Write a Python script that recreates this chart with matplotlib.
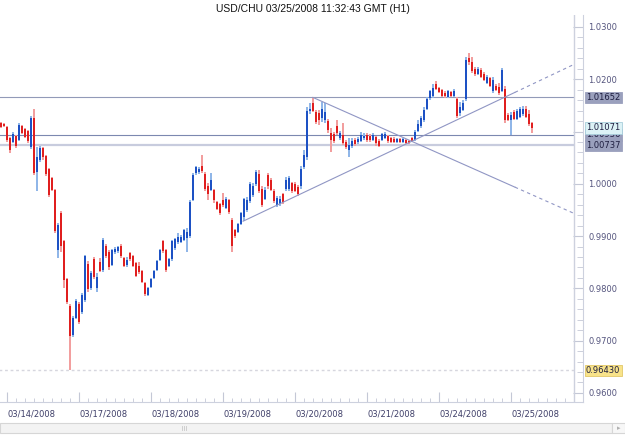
import matplotlib
matplotlib.use("Agg")
import matplotlib.pyplot as plt
import numpy as np
from matplotlib.patches import Rectangle
from matplotlib.lines import Line2D
from matplotlib.transforms import blended_transform_factory

title = "USD/CHU 03/25/2008 11:32:43 GMT (H1)"
day_labels = ["03/14/2008", "03/17/2008", "03/18/2008", "03/19/2008",
              "03/20/2008", "03/21/2008", "03/24/2008", "03/25/2008"]
first_hour = -26  # hourly bars shown before 03/17 00:00

opens = [1.0116, 1.0114, 1.0108, 1.0088, 1.0080, 1.0092, 1.0084, 1.0110, 1.0104, 1.0101,
         1.0070, 1.0126, 1.0023, 1.0045, 1.0068, 1.0053, 1.0029, 1.0011, 0.9989, 0.9874,
         0.9944, 0.9890, 0.9818, 0.9766, 0.9711, 0.9743,
         0.9770, 0.9755, 0.9778, 0.9846, 0.9800, 0.9856, 0.9800, 0.9850, 0.9835, 0.9882,
         0.9870, 0.9844, 0.9870, 0.9872, 0.9882, 0.9858, 0.9844, 0.9868, 0.9862, 0.9848,
         0.9842, 0.9834, 0.9810, 0.9788,
         0.9802, 0.9820, 0.9835, 0.9854, 0.9890, 0.9874, 0.9842, 0.9856, 0.9878, 0.9888,
         0.9888, 0.9892, 0.9896, 0.9900, 0.9969, 1.0021, 1.0023, 1.0035, 1.0019, 0.9995,
         0.9989, 0.9989, 0.9965, 0.9961,
         0.9969, 0.9953, 0.9969, 0.9930, 0.9912, 0.9908, 0.9924, 0.9936, 0.9949, 0.9967,
         0.9979, 0.9999, 1.0019, 0.9991, 0.9971, 1.0017, 1.0007, 0.9987, 0.9959, 0.9961,
         0.9981, 0.9991, 0.9991, 1.0001, 0.9999, 0.9993,
         0.9995, 1.0033, 1.0051, 1.0140, 1.0154, 1.0138, 1.0136, 1.0126, 1.0122, 1.0120,
         1.0097, 1.0096, 1.0110, 1.0088, 1.0094, 1.0080, 1.0064, 1.0072, 1.0084, 1.0080,
         1.0082, 1.0088, 1.0094, 1.0092,
         1.0084, 1.0090, 1.0082, 1.0084, 1.0088, 1.0092, 1.0088, 1.0086, 1.0080, 1.0086,
         1.0080, 1.0084, 1.0082, 1.0088, 1.0084, 1.0101, 1.0110, 1.0122, 1.0144, 1.0164,
         1.0168, 1.0190, 1.0184, 1.0180,
         1.0174, 1.0166, 1.0176, 1.0168, 1.0162, 1.0136, 1.0142, 1.0162, 1.0241, 1.0233,
         1.0219, 1.0210, 1.0217, 1.0210, 1.0192, 1.0202, 1.0178, 1.0188, 1.0186, 1.0178,
         1.0182, 1.0132, 1.0122, 1.0138,
         1.0124, 1.0128, 1.0134, 1.0144, 1.0134, 1.0116]
highs = [1.0118, 1.0116, 1.0110, 1.0090, 1.0100, 1.0094, 1.0116, 1.0112, 1.0106, 1.0103,
         1.0130, 1.0144, 1.0070, 1.0072, 1.0070, 1.0055, 1.0031, 1.0013, 0.9991, 0.9926,
         0.9948, 0.9892, 0.9820, 0.9770, 0.9747, 0.9780,
         0.9774, 0.9792, 0.9864, 0.9852, 0.9834, 0.9860, 0.9830, 0.9858, 0.9896, 0.9884,
         0.9874, 0.9876, 0.9880, 0.9882, 0.9884, 0.9860, 0.9860, 0.9870, 0.9864, 0.9850,
         0.9850, 0.9836, 0.9812, 0.9802,
         0.9820, 0.9835, 0.9854, 0.9876, 0.9892, 0.9876, 0.9858, 0.9892, 0.9896, 0.9906,
         0.9902, 0.9914, 0.9916, 0.9969, 1.0021, 1.0035, 1.0033, 1.0055, 1.0023, 1.0001,
         1.0021, 0.9991, 0.9967, 0.9963,
         0.9983, 0.9975, 0.9971, 0.9934, 0.9914, 0.9926, 0.9946, 0.9973, 0.9975, 1.0003,
         1.0001, 1.0027, 1.0027, 0.9995, 0.9993, 1.0021, 1.0011, 0.9991, 0.9977, 0.9977,
         0.9983, 1.0013, 1.0015, 1.0003, 1.0003, 0.9997,
         1.0035, 1.0065, 1.0146, 1.0154, 1.0165, 1.0142, 1.0142, 1.0156, 1.0154, 1.0124,
         1.0106, 1.0100, 1.0122, 1.0101, 1.0116, 1.0084, 1.0088, 1.0088, 1.0088, 1.0090,
         1.0100, 1.0097, 1.0097, 1.0096,
         1.0097, 1.0092, 1.0086, 1.0097, 1.0100, 1.0094, 1.0090, 1.0090, 1.0088, 1.0088,
         1.0088, 1.0086, 1.0084, 1.0090, 1.0103, 1.0122, 1.0130, 1.0146, 1.0166, 1.0180,
         1.0190, 1.0196, 1.0186, 1.0182,
         1.0178, 1.0180, 1.0178, 1.0182, 1.0166, 1.0156, 1.0160, 1.0243, 1.0250, 1.0243,
         1.0223, 1.0223, 1.0221, 1.0214, 1.0208, 1.0204, 1.0204, 1.0190, 1.0192, 1.0221,
         1.0188, 1.0136, 1.0138, 1.0142,
         1.0144, 1.0146, 1.0148, 1.0148, 1.0142, 1.0118]
lows = [1.0106, 1.0108, 1.0080, 1.0059, 1.0078, 1.0068, 1.0082, 1.0096, 1.0088, 1.0078,
        1.0066, 1.0017, 0.9987, 1.0041, 1.0045, 1.0015, 0.9975, 0.9987, 0.9906, 0.9858,
        0.9870, 0.9800, 0.9770, 0.9643, 0.9707, 0.9741,
        0.9731, 0.9751, 0.9774, 0.9794, 0.9796, 0.9818, 0.9794, 0.9832, 0.9832, 0.9858,
        0.9836, 0.9842, 0.9866, 0.9868, 0.9858, 0.9840, 0.9840, 0.9852, 0.9840, 0.9822,
        0.9828, 0.9810, 0.9786, 0.9786,
        0.9800, 0.9818, 0.9834, 0.9852, 0.9868, 0.9832, 0.9840, 0.9852, 0.9874, 0.9884,
        0.9886, 0.9890, 0.9870, 0.9896, 0.9967, 1.0017, 1.0019, 1.0021, 0.9987, 0.9969,
        0.9987, 0.9963, 0.9949, 0.9941,
        0.9955, 0.9951, 0.9943, 0.9870, 0.9896, 0.9906, 0.9922, 0.9928, 0.9946, 0.9963,
        0.9975, 0.9995, 0.9983, 0.9955, 0.9969, 0.9991, 0.9987, 0.9963, 0.9955, 0.9957,
        0.9961, 0.9987, 0.9987, 0.9983, 0.9985, 0.9977,
        0.9991, 1.0029, 1.0045, 1.0134, 1.0138, 1.0114, 1.0112, 1.0118, 1.0116, 1.0097,
        1.0061, 1.0078, 1.0094, 1.0084, 1.0074, 1.0066, 1.0051, 1.0068, 1.0072, 1.0076,
        1.0080, 1.0084, 1.0080, 1.0080,
        1.0082, 1.0072, 1.0070, 1.0082, 1.0086, 1.0078, 1.0078, 1.0078, 1.0078, 1.0078,
        1.0078, 1.0076, 1.0076, 1.0080, 1.0082, 1.0099, 1.0106, 1.0118, 1.0142, 1.0160,
        1.0164, 1.0180, 1.0174, 1.0166,
        1.0164, 1.0164, 1.0166, 1.0166, 1.0126, 1.0130, 1.0140, 1.0158, 1.0227, 1.0212,
        1.0206, 1.0208, 1.0202, 1.0196, 1.0190, 1.0186, 1.0174, 1.0178, 1.0170, 1.0176,
        1.0116, 1.0120, 1.0094, 1.0122,
        1.0122, 1.0126, 1.0130, 1.0126, 1.0110, 1.0097]
closes = [1.0108, 1.0110, 1.0084, 1.0064, 1.0096, 1.0072, 1.0112, 1.0098, 1.0090, 1.0082,
          1.0126, 1.0021, 1.0051, 1.0068, 1.0051, 1.0019, 0.9979, 0.9989, 0.9910, 0.9922,
          0.9882, 0.9816, 0.9774, 0.9709, 0.9743, 0.9776,
          0.9735, 0.9788, 0.9862, 0.9798, 0.9830, 0.9822, 0.9822, 0.9834, 0.9892, 0.9862,
          0.9840, 0.9874, 0.9876, 0.9880, 0.9862, 0.9842, 0.9854, 0.9856, 0.9842, 0.9824,
          0.9832, 0.9812, 0.9790, 0.9800,
          0.9818, 0.9834, 0.9852, 0.9874, 0.9872, 0.9835, 0.9856, 0.9890, 0.9894, 0.9898,
          0.9898, 0.9912, 0.9908, 0.9965, 1.0017, 1.0033, 1.0029, 1.0025, 0.9991, 0.9981,
          1.0007, 0.9969, 0.9951, 0.9945,
          0.9959, 0.9971, 0.9947, 0.9882, 0.9900, 0.9924, 0.9944, 0.9971, 0.9969, 0.9999,
          0.9995, 1.0023, 0.9987, 0.9959, 0.9989, 0.9995, 0.9989, 0.9967, 0.9973, 0.9971,
          0.9965, 1.0007, 1.0011, 0.9987, 0.9987, 0.9981,
          1.0029, 1.0055, 1.0140, 1.0144, 1.0140, 1.0118, 1.0122, 1.0144, 1.0138, 1.0103,
          1.0084, 1.0082, 1.0097, 1.0097, 1.0078, 1.0070, 1.0074, 1.0082, 1.0076, 1.0086,
          1.0094, 1.0092, 1.0084, 1.0084,
          1.0094, 1.0078, 1.0072, 1.0096, 1.0096, 1.0082, 1.0080, 1.0080, 1.0086, 1.0080,
          1.0086, 1.0078, 1.0078, 1.0082, 1.0100, 1.0114, 1.0126, 1.0142, 1.0162, 1.0178,
          1.0184, 1.0182, 1.0176, 1.0168,
          1.0168, 1.0178, 1.0168, 1.0178, 1.0130, 1.0146, 1.0154, 1.0237, 1.0233, 1.0216,
          1.0210, 1.0219, 1.0204, 1.0198, 1.0204, 1.0188, 1.0198, 1.0180, 1.0174, 1.0217,
          1.0122, 1.0122, 1.0132, 1.0124,
          1.0140, 1.0144, 1.0144, 1.0128, 1.0114, 1.0107]

level_lines = [1.01652, 1.00936, 1.00737]
level_colors = ["#929ab8", "#7c88b0", "#c8ccde"]
level_widths = [0.8, 0.8, 1.6]
spike_low = 0.96430
last_price = 1.01071
trend_up = [(54.7, 0.99285), (141.3, 1.01640)]
trend_down = [(78.0, 1.01652), (164.7, 0.99442)]

W, H = 625, 436
fig = plt.figure(figsize=(W / 100, H / 100), dpi=100)
fig.patch.set_facecolor("white")
ax = fig.add_axes([0, 1 - 402 / H, 583 / W, (402 - 15) / H])

hours = np.arange(len(opens)) + first_hour
o = np.array(opens)
h = np.array(highs)
l = np.array(lows)
c = np.array(closes)
up = c >= o

wick_col = np.where(up, "#8db4e8", "#f29c9c")
body_col = np.where(up, "#1a4fc4", "#e01c1c")
ax.vlines(hours, l, h, colors=list(wick_col), lw=1.4)
ax.vlines(hours, np.minimum(o, c), np.maximum(o, c), colors=list(body_col), lw=1.4)

edge = 165  # right border of the price area
ax.axvline(edge, color="#cdd1de", lw=1)

for val, col, w in zip(level_lines, level_colors, level_widths):
    ax.hlines(val, first_hour - 1, edge, colors=col, lw=w, zorder=1)
ax.hlines(spike_low, first_hour - 1, edge, colors="#d6d6de", lw=1,
          linestyles=(0, (2, 2)), zorder=1)

dash_from = 145.3
for (x0, y0), (x1, y1) in (trend_up, trend_down):
    slope = (y1 - y0) / (x1 - x0)
    xs = np.array([x0, dash_from])
    ax.plot(xs, y0 + slope * (xs - x0), color="#9096c4", lw=0.8)
    xs = np.array([dash_from, edge])
    ax.plot(xs, y0 + slope * (xs - x0), color="#9096c4", lw=0.8,
            linestyle=(0, (3, 3)))

ax.set_xlim(first_hour - 0.33, 168)
ax.set_ylim(0.95827, 1.03229)

for s in ("left", "top"):
    ax.spines[s].set_visible(False)
ax.spines["right"].set_color("#cdd1de")
ax.spines["bottom"].set_color("#cdd1de")

ax.yaxis.tick_right()
ax.set_yticks(np.arange(0.96, 1.0301, 0.01))
ax.set_yticks(np.arange(0.96, 1.0301, 0.002), minor=True)
ax.set_yticklabels([f"{v:.4f}" for v in np.arange(0.96, 1.0301, 0.01)])
ax.tick_params(axis="y", which="major", direction="in", length=7, color="#c4c8d6",
               labelsize=6, labelcolor="#55557e", pad=4)
ax.tick_params(axis="y", which="minor", direction="in", length=4, color="#c4c8d6")

ax.set_xticks(np.arange(-24, edge, 24))
ax.set_xticks(np.arange(-24, edge, 3), minor=True)
ax.set_xticklabels([])
ax.tick_params(axis="x", which="major", direction="in", length=7, color="#c4c8d6")
ax.tick_params(axis="x", which="minor", direction="in", length=3, color="#c4c8d6")

tr = blended_transform_factory(ax.transData, ax.transAxes)
for k, lab in enumerate(day_labels):
    ax.text(24 * (k - 1) + 8.3, -0.031, lab, transform=tr, ha="center", va="center",
            fontsize=6, color="#3e3e68", clip_on=False)

# price tags on the right; the 1.00936 tag sits partly under its neighbours
tr_y = blended_transform_factory(ax.transAxes, ax.transData)
boxes = [(1.00936, "#9aa0bd", "#9aa0bd"), (1.01652, "#9aa0bd", "#9aa0bd"),
         (1.00737, "#9aa0bd", "#9aa0bd"), (last_price, "#dcf2f6", "#a8cfdc"),
         (spike_low, "#f8e38a", "#e2c868")]
for val, fc, ec in boxes:
    ax.text(586 / 583, val, f"{val:.5f}", transform=tr_y, ha="left", va="center",
            fontsize=6, color="#1e1e40", clip_on=False,
            bbox=dict(boxstyle="square,pad=0.15", fc=fc, ec=ec, lw=0.6))

fig.text(0.5, 1 - 9 / H, title, ha="center", va="center", fontsize=7.5,
         family=["Liberation Sans", "DejaVu Sans"], color="#111111")


def fig_rect(x, y, w, hh, **kw):
    fig.add_artist(Rectangle((x / W, 1 - (y + hh) / H), w / W, hh / H,
                             transform=fig.transFigure, **kw))


# scroll bar along the bottom
fig_rect(0, 423, 612, 10, fc="#f3f3f3", ec="#d6d6d6", lw=0.8)
fig_rect(612, 423, 13, 10, fc="#f7f7f7", ec="#d6d6d6", lw=0.8)
for gx in (182, 184, 186):
    fig.add_artist(Line2D([gx / W, gx / W], [1 - 426 / H, 1 - 430 / H],
                          transform=fig.transFigure, color="#c8c8c8", lw=0.6))
fig.text(618.5 / W, 1 - 428 / H, "\u25b8", ha="center", va="center", fontsize=5,
         color="#b0b0b0")

fig.savefig("out.png", dpi=100)
